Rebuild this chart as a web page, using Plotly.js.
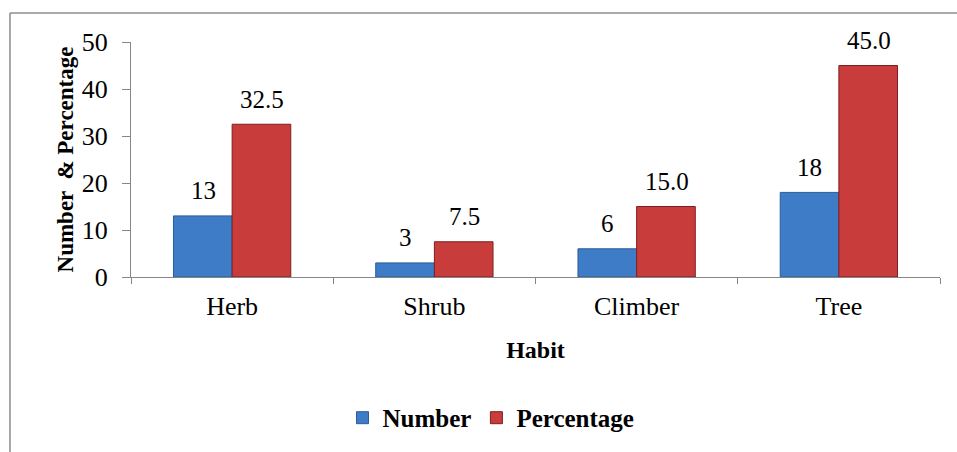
<!DOCTYPE html>
<html>
<head>
<meta charset="utf-8">
<script src="https://cdn.plot.ly/plotly-3.0.1.min.js"></script>
<style>
html,body{margin:0;padding:0;background:#fff;}
#chart{width:957px;height:452px;}
</style>
</head>
<body>
<div id="chart"></div>
<script>
const categories = ["Herb", "Shrub", "Climber", "Tree"];
const numberValues = [13, 3, 6, 18];
const percentValues = [32.5, 7.5, 15.0, 45.0];
const numberLabels = ["13", "3", "6", "18"];
const percentLabels = ["32.5", "7.5", "15.0", "45.0"];
const yTicks = [0, 10, 20, 30, 40, 50];

const FONT = "Liberation Serif, Times New Roman, serif";
const AXIS = "#868686";

const traces = [
  {
    type: "bar", name: "Number", x: categories, y: numberValues,
    marker: {color: "#3F7CC8", line: {color: "#2A5C99", width: 1}},
    hoverinfo: "none"
  },
  {
    type: "bar", name: "Percentage", x: categories, y: percentValues,
    marker: {color: "#C93C3C", line: {color: "#7E1F1F", width: 1}},
    hoverinfo: "none"
  }
];

const annotations = [];
categories.forEach((c, i) => {
  annotations.push({x: c, y: numberValues[i], xref: "x", yref: "y", text: numberLabels[i],
    showarrow: false, xshift: -29, yshift: 25, yanchor: "middle",
    font: {family: FONT, size: 25, color: "#000"}});
  annotations.push({x: c, y: percentValues[i], xref: "x", yref: "y", text: percentLabels[i],
    showarrow: false, xshift: 30, yshift: 25, yanchor: "middle",
    font: {family: FONT, size: 25, color: "#000"}});
});

const layout = {
  width: 957, height: 452,
  margin: {l: 131, r: 17, t: 42, b: 174},
  paper_bgcolor: "#fff", plot_bgcolor: "#fff",
  font: {family: FONT, color: "#000"},
  barmode: "group", bargap: 0.42, bargroupgap: 0,
  showlegend: true,
  legend: {orientation: "h", x: 0.445, xanchor: "center", y: -0.593, yanchor: "middle",
    font: {family: FONT, size: 25, color: "#000", weight: "bold"}, itemwidth: 30, tracegroupgap: 0},
  xaxis: {
    type: "category", showline: true, linecolor: AXIS, linewidth: 1,
    ticks: "outside", tickson: "boundaries", ticklen: 6, tickcolor: AXIS,
    tickfont: {family: FONT, size: 26, color: "#000"}, ticklabelstandoff: 6,
    showgrid: false, zeroline: false,
    title: {text: "<b>Habit</b>", font: {family: FONT, size: 24, color: "#000"}, standoff: 20}
  },
  yaxis: {
    range: [0, 50], tickvals: yTicks, ticktext: yTicks.map(String),
    showline: true, linecolor: AXIS, linewidth: 1,
    ticks: "outside", ticklen: 8, tickcolor: AXIS,
    tickfont: {family: FONT, size: 26, color: "#000"}, ticklabelstandoff: 9,
    showgrid: false, zeroline: false,
    title: {text: "<b>Number  & Percentage</b>", font: {family: FONT, size: 23, color: "#000"}, standoff: 1}
  },
  annotations: annotations,
  shapes: [
    {type: "line", xref: "paper", yref: "paper", x0: -0.1496, x1: 1.03, y0: 1.1229, y1: 1.1229,
      line: {color: "#8C8C8C", width: 1.5}},
    {type: "line", xref: "paper", yref: "paper", x0: -0.1496, x1: -0.1496, y0: 1.1229, y1: -0.75,
      line: {color: "#8C8C8C", width: 1.5}}
  ]
};

Plotly.newPlot("chart", traces, layout, {displayModeBar: false, staticPlot: true});
</script>
</body>
</html>
